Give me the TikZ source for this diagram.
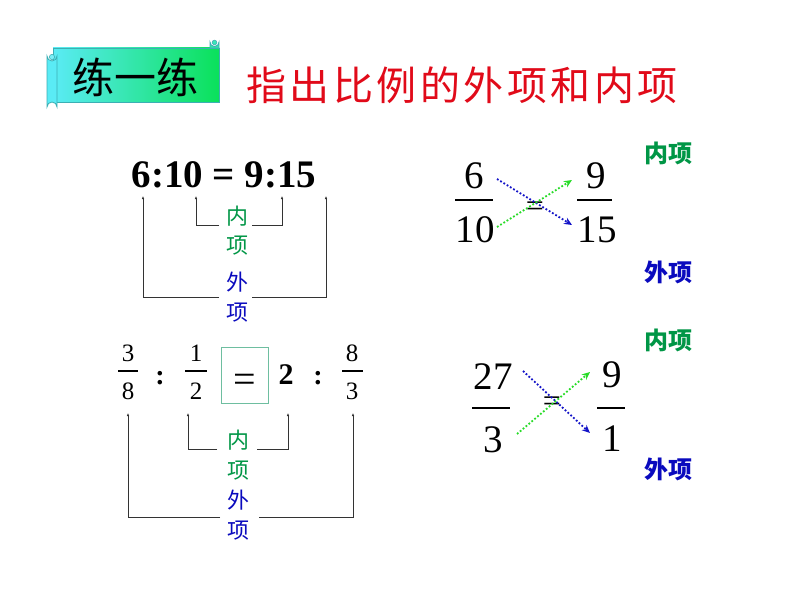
\documentclass[tikz,border=0pt]{standalone}
\usepackage{fontspec}
\setmainfont{Liberation Serif}
\newfontfamily\cjk{Noto Sans CJK SC}
\usetikzlibrary{arrows.meta}
\definecolor{titlered}{RGB}{225,10,25}
\definecolor{ingreen}{RGB}{0,150,70}
\definecolor{outblue}{RGB}{10,10,190}
\definecolor{dotblue}{RGB}{20,20,200}
\definecolor{dotgreen}{RGB}{40,220,40}
\definecolor{scrollcyan}{RGB}{90,235,245}
\definecolor{scrollgreen}{RGB}{10,225,90}
\definecolor{scrolledge}{RGB}{60,175,180}
\definecolor{boxedge}{RGB}{110,190,160}
\tikzset{
  txt/.style={inner sep=0pt, anchor=center},
  lblin/.style={txt, font=\fontsize{22}{22}\selectfont\cjk, text=ingreen},
  lblout/.style={txt, font=\fontsize{22}{22}\selectfont\cjk, text=outblue},
  tagin/.style={txt, font=\fontsize{24}{24}\selectfont\cjk\bfseries, text=ingreen},
  tagout/.style={txt, font=\fontsize{24}{24}\selectfont\cjk\bfseries, text=outblue},
  bracket/.style={draw=black!80, line width=0.7pt, -{Latex[length=3pt,width=2.5pt]}},
  bignum/.style={txt, font=\fontsize{39}{39}\selectfont},
  smallnum/.style={txt, font=\fontsize{25}{25}\selectfont},
  fbar/.style={line width=1.3pt},
  dotarrB/.style={draw=dotblue, line width=1.8pt, dotted, -{Stealth[length=8pt,width=7pt]}},
  dotarrG/.style={draw=dotgreen, line width=1.8pt, dotted, -{Stealth[length=8pt,width=7pt]}},
}
\begin{document}
\begin{tikzpicture}[x=1pt,y=-1pt]
\useasboundingbox (0,0) rectangle (794,596);
\fill[white] (0,0) rectangle (794,596);

% ---------- scroll banner ----------
\shade[left color=scrollcyan, right color=scrollgreen, draw=scrolledge, line width=0.8pt]
  (53,48) rectangle (219,102);
% top-right roll
\filldraw[fill=scrollcyan!50!scrollgreen, draw=scrolledge, line width=0.8pt]
  (210,48) -- (210,42) arc[start angle=180,end angle=0,radius=4.5] -- (219,48) -- cycle;
\filldraw[fill=scrollcyan!60!scrollgreen, draw=scrolledge, line width=0.6pt] (214.5,42.5) circle (2.3);
% left roll
\filldraw[fill=scrollcyan, draw=scrolledge, line width=0.8pt]
  (47,56) arc[start angle=180,end angle=0,radius=5] -- (57,107) arc[start angle=0,end angle=-180,radius=5] -- cycle;
\filldraw[fill=scrollcyan!80!white, draw=scrolledge, line width=0.6pt] (52,57) circle (2.6);
\node[txt, font=\fontsize{42}{42}\selectfont\cjk] (lyl) at (135,77) {练一练};

% ---------- title ----------
\node[txt, font=\fontsize{40}{40}\selectfont\cjk, text=titlered] (title) at (462,85)
  {指\hspace{3.5pt}出\hspace{3.5pt}比\hspace{3.5pt}例\hspace{3.5pt}的\hspace{3.5pt}外\hspace{3.5pt}项\hspace{3.5pt}和\hspace{3.5pt}内\hspace{3.5pt}项};

% ---------- 6:10 = 9:15 ----------
\node[txt, font=\fontsize{39}{39}\selectfont\bfseries] (eq1) at (224,175) {6:10 = 9:15};
\coordinate (a1) at (143,196);
\coordinate (b1) at (196,196);
\coordinate (c1) at (282,196);
\coordinate (d1) at (326,196);
\coordinate (gi1) at (219,225);
\coordinate (gi2) at (252,225);
\coordinate (go1) at (219,297);
\coordinate (go2) at (252,297);
\draw[bracket] (gi1) -| (b1);
\draw[bracket] (gi2) -| (c1);
\draw[bracket] (go1) -| (a1);
\draw[bracket] (go2) -| (d1);
\node[lblin] (n1a) at (237,216) {内};
\node[lblin] (n1b) at (237,246) {项};
\node[lblout] (w1a) at (237,282) {外};
\node[lblout] (w1b) at (237,313) {项};

% ---------- 3/8 : 1/2 = 2 : 8/3 ----------
\node[smallnum] (p1) at (128,353) {3};
\node[smallnum] (q1) at (128,391) {8};
\draw[fbar] (118,371) -- (138,371);
\node[txt, font=\fontsize{28}{28}\selectfont\bfseries] (c2a) at (160,378) {:};
\node[smallnum] (p2) at (196,353) {1};
\node[smallnum] (q2) at (196,391) {2};
\draw[fbar] (185,371) -- (207,371);
\node[draw=boxedge, line width=1pt, minimum width=47pt, minimum height=56pt, inner sep=0pt] (eqbox) at (244.5,375) {};
\node[txt, font=\fontsize{40}{40}\selectfont] (eqs) at (244.5,383) {=};
\node[txt, font=\fontsize{30}{30}\selectfont\bfseries] (two) at (286,375) {2};
\node[txt, font=\fontsize{28}{28}\selectfont\bfseries] (c2b) at (318,378) {:};
\node[smallnum] (p3) at (352,353) {8};
\node[smallnum] (q3) at (352,391) {3};
\draw[fbar] (342,371) -- (363,371);

\coordinate (a2) at (128,413);
\coordinate (b2) at (188,413);
\coordinate (c2) at (288,413);
\coordinate (d2) at (353,413);
\coordinate (hi1) at (217,449);
\coordinate (hi2) at (257,449);
\coordinate (ho1) at (220,517);
\coordinate (ho2) at (259,517);
\draw[bracket] (hi1) -| (b2);
\draw[bracket] (hi2) -| (c2);
\draw[bracket] (ho1) -| (a2);
\draw[bracket] (ho2) -| (d2);
\node[lblin] (n2a) at (238,440) {内};
\node[lblin] (n2b) at (238,471) {项};
\node[lblout] (w2a) at (238,500) {外};
\node[lblout] (w2b) at (238,531) {项};

% ---------- 6/10 = 9/15 ----------
\node[bignum] (six) at (474,176) {6};
\node[bignum] (ten) at (475,230) {10};
\draw[fbar] (455,200) -- (493,200);
\node[bignum] (nine) at (596,176) {9};
\node[bignum] (fift) at (597,230) {15};
\draw[fbar] (577,200) -- (612,200);
\node[txt, font=\fontsize{32}{32}\selectfont] (eqr1) at (535,209) {=};
\coordinate (s1) at (497,179);
\coordinate (e1) at (572,225);
\coordinate (s2) at (497,227);
\coordinate (e2) at (572,180);
\draw[dotarrB] (s1) -- (e1);
\draw[dotarrG] (s2) -- (e2);
\node[tagin] (t1) at (668,153) {内项};
\node[tagout] (t2) at (668,272) {外项};

% ---------- 27/3 = 9/1 ----------
\node[bignum] (n27) at (493,377) {27};
\node[bignum] (d3) at (493,440) {3};
\draw[fbar] (472,408) -- (510,408);
\node[bignum] (n9) at (612,375) {9};
\node[bignum] (d1n) at (612,439) {1};
\draw[fbar] (597,408) -- (625,408);
\node[txt, font=\fontsize{32}{32}\selectfont] (eqr2) at (552,404) {=};
\coordinate (s3) at (523,371);
\coordinate (e3) at (590,433);
\coordinate (s4) at (517,434);
\coordinate (e4) at (590,372);
\draw[dotarrB] (s3) -- (e3);
\draw[dotarrG] (s4) -- (e4);
\node[tagin] (t3) at (668,340) {内项};
\node[tagout] (t4) at (668,469) {外项};
\end{tikzpicture}
\end{document}
